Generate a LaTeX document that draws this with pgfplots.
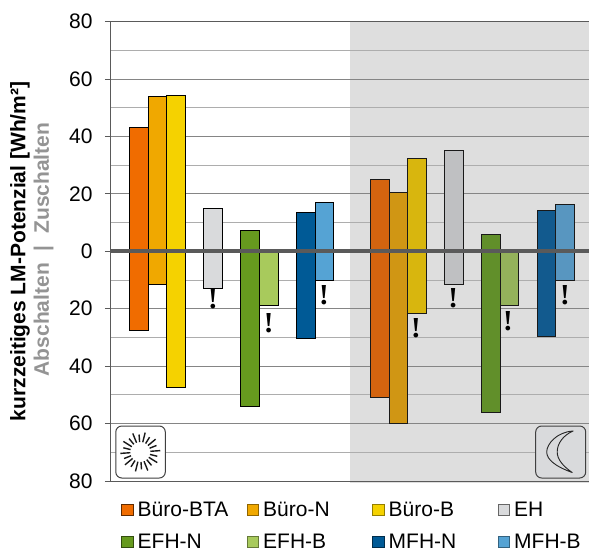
\documentclass[border=0pt]{standalone}
\usepackage{fontspec}
\setmainfont{Liberation Sans}
\newfontfamily\exfont{Liberation Serif}
\usepackage{pgfplots}
\pgfplotsset{compat=1.18}
\definecolor{cBTA}{HTML}{F06C00}\definecolor{cN}{HTML}{F0A800}\definecolor{cB}{HTML}{F5D200}\definecolor{cEH}{HTML}{D9DADC}
\definecolor{cEN}{HTML}{669A1E}\definecolor{cEB}{HTML}{A8CA5C}\definecolor{cMN}{HTML}{005A96}\definecolor{cMB}{HTML}{55A3D4}
\definecolor{nBTA}{HTML}{D4640F}\definecolor{nN}{HTML}{D09614}\definecolor{nB}{HTML}{D8B60E}\definecolor{nEH}{HTML}{BFC0C2}
\definecolor{nEN}{HTML}{618F2A}\definecolor{nEB}{HTML}{94B25B}\definecolor{nMN}{HTML}{125A8E}\definecolor{nMB}{HTML}{5896C0}
\definecolor{axisgray}{HTML}{5A5A5A}
\newcommand{\lbl}[1]{\hspace{2pt}\makebox[107pt][l]{#1}}
\pgfplotsset{
  dayb/.style n args={3}{fill=#1,draw=black,line width=1pt,bar width=#2pt,legend image post style={draw=#3}},
  nb/.style n args={2}{fill=#1,draw=black!90,line width=1pt,bar width=#2pt,forget plot},
}
\begin{document}
\begin{tikzpicture}[x=1pt,y=1pt]
\begin{axis}[
  at={(0pt,0pt)},anchor=south west,
  scale only axis,width=481pt,height=459.3pt,
  xmin=111,xmax=592,ymin=-80,ymax=80,
  set layers,clip=false,
  ybar=0pt,bar shift=0pt,
  xtick=\empty,
  ytick={-80,-60,-40,-20,0,20,40,60,80},
  yticklabels={80,60,40,20,0,20,40,60,80},
  minor ytick={-70,-50,-30,-10,10,30,50,70},
  tick pos=left,tick align=outside,
  major tick length=6pt,minor tick length=0pt,
  tick style={color=axisgray,line width=0.9pt},
  grid=both,
  major grid style={color=black!48,line width=1pt},
  minor grid style={color=black!32,line width=1pt},
  axis line style={color=axisgray,line width=1pt},
  ticklabel style={font=\fontsize{21}{24}\selectfont},
  yticklabel style={xshift=-9pt},
  ylabel={\bfseries kurzzeitiges LM-Potenzial [Wh/m²]},
  ylabel style={font=\fontsize{21}{24}\selectfont,at={(axis description cs:0,0.5)},anchor=center,yshift=91pt,xshift=0pt},
  legend columns=4,
  legend style={draw=none,fill=none,at={(10pt,-17pt)},anchor=north west,font=\fontsize{21}{24}\selectfont,
    /tikz/every even column/.append style={column sep=0pt},row sep=12pt,inner sep=0pt},
  legend cell align=left,
  legend image code/.code={\draw[#1,line width=1pt] (0pt,-5.5pt) rectangle (11.5pt,6pt);},
]
\addplot[on layer=axis background,fill=black!13,draw=none,forget plot,sharp plot] coordinates {(350,80.3)(592,80.3)(592,-80.7)(350,-80.7)} --cycle;
% day: x centre, then Zuschalten / Abschalten
\addplot[dayb={cBTA}{19.2}{black!60!cBTA}] coordinates {(139.1,43.2)(139.1,-27.4)};
\addplot[dayb={cN}{17.8}{black!40!cN}] coordinates {(157.6,53.8)(157.6,-11.7)};
\addplot[dayb={cB}{19.2}{black!40!cB}] coordinates {(176.1,54.2)(176.1,-47.3)};
\addplot[dayb={cEH}{19.4}{black!60}] coordinates {(213,14.8)(213,-12.9)};
\addplot[dayb={cEN}{19.4}{black!50!cEN}] coordinates {(250,7.3)(250,-53.9)};
\addplot[dayb={cEB}{19}{black!40!cEB}] coordinates {(269.2,0)(269.2,-19)};
\addplot[dayb={cMN}{19.4}{black!50!cMN}] coordinates {(306,13.7)(306,-30.2)};
\addplot[dayb={cMB}{18}{black!40!cMB}] coordinates {(324.7,16.9)(324.7,-10.2)};
% night
\addplot[nb={nBTA}{19.4}] coordinates {(380,25.2)(380,-50.8)};
\addplot[nb={nN}{18}] coordinates {(398.7,20.6)(398.7,-59.8)};
\addplot[nb={nB}{19}] coordinates {(417.2,32.3)(417.2,-21.8)};
\addplot[nb={nEH}{19.7}] coordinates {(453.9,35)(453.9,-11.7)};
\addplot[nb={nEN}{19.4}] coordinates {(491,5.7)(491,-56.2)};
\addplot[nb={nEB}{17.6}] coordinates {(509.5,0)(509.5,-19)};
\addplot[nb={nMN}{18.4}] coordinates {(546.5,14.1)(546.5,-29.7)};
\addplot[nb={nMB}{19}] coordinates {(565.2,16.4)(565.2,-10.2)};
\addplot[sharp plot,color=axisgray,line width=3.8pt,forget plot] coordinates {(111,0)(592,0)};
\legend{\lbl{Büro-BTA},\lbl{Büro-N},\lbl{Büro-B},\lbl{EH},\lbl{EFH-N},\lbl{EFH-B},\lbl{MFH-N},\lbl{MFH-B}}
\end{axis}
% annotations in page pixels: x-111, 481-y
\foreach \px/\py in {213/299,268.7/323,324/295,416/328,453.3/298,508/321,565/295}
  \node[font=\exfont\bfseries\fontsize{29}{29}\selectfont,inner sep=0pt] at (\px-111,481-\py) {!};
\node[rotate=90,font=\bfseries\fontsize{21}{24}\selectfont,text=black!42] at (43.5-111,481-249.5) {Abschalten\hspace{6pt} | \hspace{6pt}Zuschalten};
% sun
\begin{scope}[shift={(29.3,29)}]
\draw[black!75,fill=white,line width=1pt,rounded corners=6pt] (-24.5,-26) rectangle (25,26);
\foreach \a in {0,18,...,342}{\pgfmathsetmacro\r{mod(\a,36)==0?20:17.5}\draw[black!90,line width=1.4pt] (\a+4:10) -- (\a+4:\r);}
\end{scope}
% moon
\begin{scope}[shift={(449.7,29)}]
\draw[black!75,fill=cEH,line width=1pt,rounded corners=6pt] (-25,-26) rectangle (25,26);
\draw[black!85,line width=0.9pt,line join=round] (12.5,21) .. controls (-4,20) and (-14,8) .. (-14,0) .. controls (-14,-8) and (-4,-15) .. (11.5,-20.5) .. controls (2,-14) and (-3.5,-7) .. (-3.5,0) .. controls (-3.5,9) and (3,17) .. (12.5,21) -- cycle;
\end{scope}
\pgfresetboundingbox
\useasboundingbox (-111,-69) rectangle (478,481);
\end{tikzpicture}
\end{document}
